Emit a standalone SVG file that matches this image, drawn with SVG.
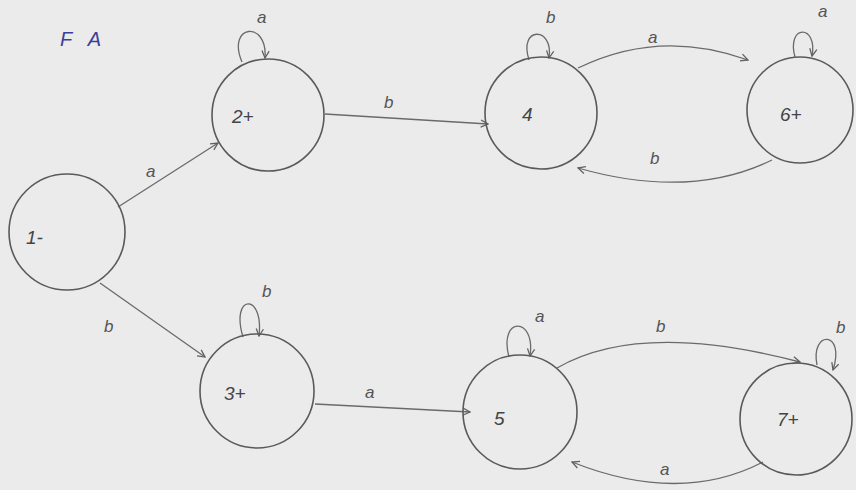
<svg xmlns="http://www.w3.org/2000/svg" width="856" height="490" viewBox="0 0 856 490">
<defs>
<marker id="arr" viewBox="0 0 10 10" refX="9" refY="5" markerWidth="9" markerHeight="9" markerUnits="userSpaceOnUse" orient="auto">
<path d="M1,1 L9,5 L1,9" fill="none" stroke="#5f5f5f" stroke-width="1.4"/>
</marker>
</defs>
<style>
.st{fill:none;stroke:#5a5a5a;stroke-width:1.6}
.ed{fill:none;stroke:#6a6a6a;stroke-width:1.3;marker-end:url(#arr)}
.lb{font-family:"Liberation Sans",sans-serif;font-size:19px;fill:#444;font-style:italic}
.el{font-family:"Liberation Sans",sans-serif;font-size:17px;fill:#555;font-style:italic}
.tt{font-family:"Liberation Sans",sans-serif;font-size:20px;fill:#3b3f9a;font-style:italic}
</style>
<rect width="856" height="490" fill="#ebebeb"/>
<text class="tt" x="60" y="46" xml:space="preserve">F   A</text>
<g id="connectors">
<line class="ed" x1="118" y1="207" x2="218" y2="143"/>
<line class="ed" x1="100" y1="283" x2="205" y2="357"/>
<line class="ed" x1="325" y1="114" x2="488" y2="124"/>
<path class="ed" d="M578,68 Q660,28 748,60"/>
<path class="ed" d="M772,160 Q690,200 578,168"/>
<line class="ed" x1="315" y1="404" x2="470" y2="412"/>
<path class="ed" d="M557,368 Q640,320 800,362"/>
<path class="ed" d="M763,462 Q680,505 572,462"/>
<path class="ed" d="M242,62 C226,24 268,20 265,58"/>
<path class="ed" d="M529,60 C518,26 554,26 549,58"/>
<path class="ed" d="M795,57 C786,24 818,24 812,56"/>
<path class="ed" d="M243,337 C230,294 264,292 259,336"/>
<path class="ed" d="M509,357 C498,316 536,316 530,356"/>
<path class="ed" d="M817,365 C810,330 846,330 833,370"/>
<text class="el" x="146" y="177">a</text>
<text class="el" x="104" y="332">b</text>
<text class="el" x="384" y="108">b</text>
<text class="el" x="648" y="43">a</text>
<text class="el" x="650" y="164">b</text>
<text class="el" x="365" y="398">a</text>
<text class="el" x="656" y="332">b</text>
<text class="el" x="660" y="475">a</text>
<text class="el" x="257" y="23">a</text>
<text class="el" x="546" y="23">b</text>
<text class="el" x="818" y="17">a</text>
<text class="el" x="262" y="297">b</text>
<text class="el" x="535" y="322">a</text>
<text class="el" x="836" y="333">b</text>
</g>
<g id="n1"><circle class="st" cx="67" cy="232" r="58"/><text class="lb" x="26" y="244">1-</text></g>
<g id="n2"><circle class="st" cx="268" cy="115" r="56"/><text class="lb" x="232" y="123">2+</text></g>
<g id="n4"><circle class="st" cx="541" cy="113" r="56"/><text class="lb" x="522" y="121">4</text></g>
<g id="n6"><circle class="st" cx="800" cy="110" r="53"/><text class="lb" x="780" y="121">6+</text></g>
<g id="n3"><circle class="st" cx="257" cy="391" r="57"/><text class="lb" x="224" y="400">3+</text></g>
<g id="n5"><circle class="st" cx="520" cy="412" r="57"/><text class="lb" x="494" y="425">5</text></g>
<g id="n7"><circle class="st" cx="796" cy="419" r="56"/><text class="lb" x="777" y="426">7+</text></g>
</svg>
